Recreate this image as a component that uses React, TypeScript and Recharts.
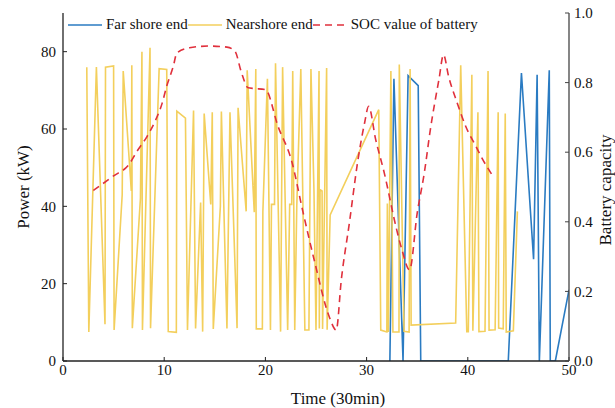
import { LineChart, Line, XAxis, YAxis, Legend, Label } from 'recharts';

// time steps (30 min) and power (kW) at the nearshore end
const nearTime = [
  2.35, 2.55, 3.3, 4.15, 4.2, 5.0, 5.05, 5.85, 5.95, 6.75, 6.8, 6.85, 7.65, 7.8, 7.85, 8.6, 8.65,
  9.5, 10.25, 10.4, 11.2, 11.25, 12.1, 12.3, 12.9, 13.1, 13.6, 13.8, 13.95, 14.6, 14.75, 14.85,
  15.55, 15.65, 16.2, 16.5, 17.2, 17.3, 18.1, 18.2, 18.9, 19.05, 19.1, 19.7, 19.75, 20.2, 20.5,
  20.6, 20.9, 21.0, 21.5, 21.7, 22.2, 22.4, 22.6, 22.7, 22.9, 23.1, 23.5, 23.9, 24.3, 24.5, 24.8,
  25.0, 25.3, 25.33, 25.4, 25.6, 25.65, 26.05, 26.1, 26.4, 31.2, 31.4, 32.0, 32.05, 32.15, 32.4,
  32.6, 33.2, 33.23, 33.7, 34.2, 34.3, 34.4, 38.8, 39.3, 39.9, 40.05, 40.4, 40.5, 41.0, 41.1, 41.7,
  42.0, 42.1, 42.7, 43.0, 43.05, 43.5, 43.7, 43.8, 44.5, 44.9,
];
const nearPower = [
  76, 7.5, 76, 9.5, 76, 76.3, 8, 43, 75, 44, 76.5, 8.5, 42, 80, 8, 81, 8.5,
  75.6, 75.4, 7.6, 7.4, 64.6, 62.8, 8, 64.8, 8.4, 41, 7.6, 64, 40.5, 64.3, 8.3,
  40, 64.5, 8.4, 64.3, 8.5, 65.5, 38.7, 75.2, 38.5, 75.5, 8.3, 8.3, 38.6, 73, 8,
  40.5, 40.5, 77, 7.6, 76, 8, 40.5, 40.5, 75, 8, 40, 75.5, 8, 8, 75.5, 44,
  8, 75, 8.4, 44.3, 44, 8.3, 75.8, 8.1, 37.8, 65, 8, 7.5, 40.7, 7.5, 75,
  7.5, 7.5, 76.7, 7.7, 7.5, 75.5, 9.3, 9.8, 76.5, 7.6, 7.6, 74, 7.8, 64.3, 7.6, 7.7,
  75, 8, 8.1, 64.3, 8.5, 8.3, 64, 7.5, 7.8, 38.7,
];

// far shore end
const farTime = [32.3, 32.7, 33.6, 34.1, 35.1, 35.35, 44.0, 45.3, 46.5, 46.85, 47.07, 48.05, 48.15, 48.65, 50.0];
const farPower = [0, 73, 0, 73.8, 71.2, 0, 0, 74.5, 26.3, 74, 0, 75.2, 0, 0, 18.4];

// state of charge of the battery
const socTime = [
  3.0, 5.0, 6.5, 7.3, 8.3, 9.1, 9.8, 10.25, 10.9, 11.25, 12.5, 14.4, 16.2, 17.0, 17.6, 18.3, 18.9,
  20.0, 21.25, 22.6, 23.7, 24.9, 26.3, 27.0, 27.5, 28.3, 29.1, 29.8, 30.2, 30.9, 31.75, 32.9,
  33.5, 34.25, 35.0, 35.7, 36.3, 37.15, 37.6, 38.1, 38.96, 39.8, 40.8, 41.4, 42.6,
];
const socValue = [
  0.49, 0.532, 0.564, 0.602, 0.645, 0.689, 0.741, 0.79, 0.847, 0.885, 0.9, 0.905, 0.902, 0.89, 0.832, 0.785, 0.783,
  0.78, 0.674, 0.574, 0.43, 0.281, 0.128, 0.089, 0.233, 0.397, 0.569, 0.684, 0.732, 0.636, 0.54, 0.386,
  0.319, 0.262, 0.425, 0.54, 0.665, 0.809, 0.88, 0.818, 0.741, 0.674, 0.617, 0.583, 0.526,
];

const xTicks = [0, 10, 20, 30, 40, 50];
const powerTicks = [0, 20, 40, 60, 80];
const socTicks = [0, 0.2, 0.4, 0.6, 0.8, 1.0];

const FONT = '"Liberation Serif", "Times New Roman", serif';
const BLUE = '#2a7bc2';
const YELLOW = '#f3cf5c';
const RED = '#e0303c';
const AXIS = '#222';

const nearData = nearTime.map((t, i) => ({ t, p: nearPower[i] }));
const farData = farTime.map((t, i) => ({ t, p: farPower[i] }));
const socData = socTime.map((t, i) => ({ t, soc: socValue[i] }));

const legendItems = [
  { name: 'Far shore end', color: BLUE, dash: undefined },
  { name: 'Nearshore end', color: YELLOW, dash: undefined },
  { name: 'SOC value of battery', color: RED, dash: '7 5' },
];

const LegendBox = () => (
  <div style={{ display: 'flex', alignItems: 'center', fontFamily: FONT, fontSize: 15, color: '#111', whiteSpace: 'nowrap' }}>
    {legendItems.map((it) => (
      <div key={it.name} style={{ display: 'flex', alignItems: 'center' }}>
        <svg width={34} height={10} style={{ marginRight: 4 }}>
          <line x1={0} y1={5} x2={34} y2={5} stroke={it.color} strokeWidth={1.6} strokeDasharray={it.dash} />
        </svg>
        <span>{it.name}</span>
      </div>
    ))}
  </div>
);

// serif tick text; dy depends on which side of the plot the axis sits
const makeTick = (dy: string, fmt: (v: number) => string) => (props: any) => (
  <text
    x={props.x}
    y={props.y}
    dy={dy}
    textAnchor={props.textAnchor}
    style={{ fontFamily: FONT, fontSize: 15, fill: '#111' }}
  >
    {fmt(props.payload.value)}
  </text>
);

const xTick = makeTick('0.72em', (v) => String(v));
const powerTick = makeTick('0.35em', (v) => String(v));
const socTick = makeTick('0.35em', (v) => v.toFixed(1));

export default function App() {
  return (
    <div style={{ position: 'absolute', left: 0, top: 0, width: 615, height: 408, background: '#fff', fontFamily: FONT }}>
      <LineChart width={615} height={408} margin={{ top: 13, right: 0, bottom: 0, left: 0 }}>
        <XAxis
          type="number"
          dataKey="t"
          domain={[0, 50]}
          ticks={xTicks}
          allowDataOverflow
          height={47}
          tickSize={-4}
          tickMargin={7}
          tick={xTick}
          stroke={AXIS}
          axisLine={{ stroke: AXIS, strokeWidth: 1.3 }}
        >
          <Label value="Time (30min)" position="center" dx={22} dy={13} style={{ fontFamily: FONT, fontSize: 17, fill: '#111' }} />
        </XAxis>
        <XAxis
          xAxisId="top"
          orientation="top"
          type="number"
          domain={[0, 50]}
          height={0}
          tick={false}
          tickLine={false}
          axisLine={{ stroke: AXIS, strokeWidth: 1.3 }}
        />
        <YAxis
          yAxisId="left"
          domain={[0, 90]}
          ticks={powerTicks}
          allowDataOverflow
          width={63}
          tickSize={-4}
          tickMargin={11}
          tick={powerTick}
          stroke={AXIS}
          axisLine={{ stroke: AXIS, strokeWidth: 1.3 }}
        >
          <Label value="Power (kW)" angle={-90} position="center" dx={-9} style={{ fontFamily: FONT, fontSize: 17, fill: '#111' }} />
        </YAxis>
        <YAxis
          yAxisId="right"
          orientation="right"
          domain={[0, 1]}
          ticks={socTicks}
          allowDataOverflow
          width={46}
          tickSize={-4}
          tickMargin={9}
          tick={socTick}
          stroke="#444"
          axisLine={{ stroke: '#444', strokeWidth: 1.3 }}
        >
          <Label value="Battery capacity" angle={-90} position="center" dx={13} dy={3} style={{ fontFamily: FONT, fontSize: 17, fill: '#111' }} />
        </YAxis>
        <Legend
          verticalAlign="middle"
          layout="horizontal"
          content={() => <LegendBox />}
          wrapperStyle={{ top: 16, left: 68, width: 'auto' }}
        />
        <Line
          yAxisId="left"
          data={farData}
          dataKey="p"
          name="Far shore end"
          stroke={BLUE}
          strokeWidth={1.6}
          dot={false}
          type="linear"
          isAnimationActive={false}
        />
        <Line
          yAxisId="left"
          data={nearData}
          dataKey="p"
          name="Nearshore end"
          stroke={YELLOW}
          strokeWidth={1.6}
          dot={false}
          type="linear"
          isAnimationActive={false}
        />
        <Line
          yAxisId="right"
          data={socData}
          dataKey="soc"
          name="SOC value of battery"
          stroke={RED}
          strokeWidth={1.6}
          strokeDasharray="7 5"
          dot={false}
          type="monotone"
          isAnimationActive={false}
        />
      </LineChart>
    </div>
  );
}
